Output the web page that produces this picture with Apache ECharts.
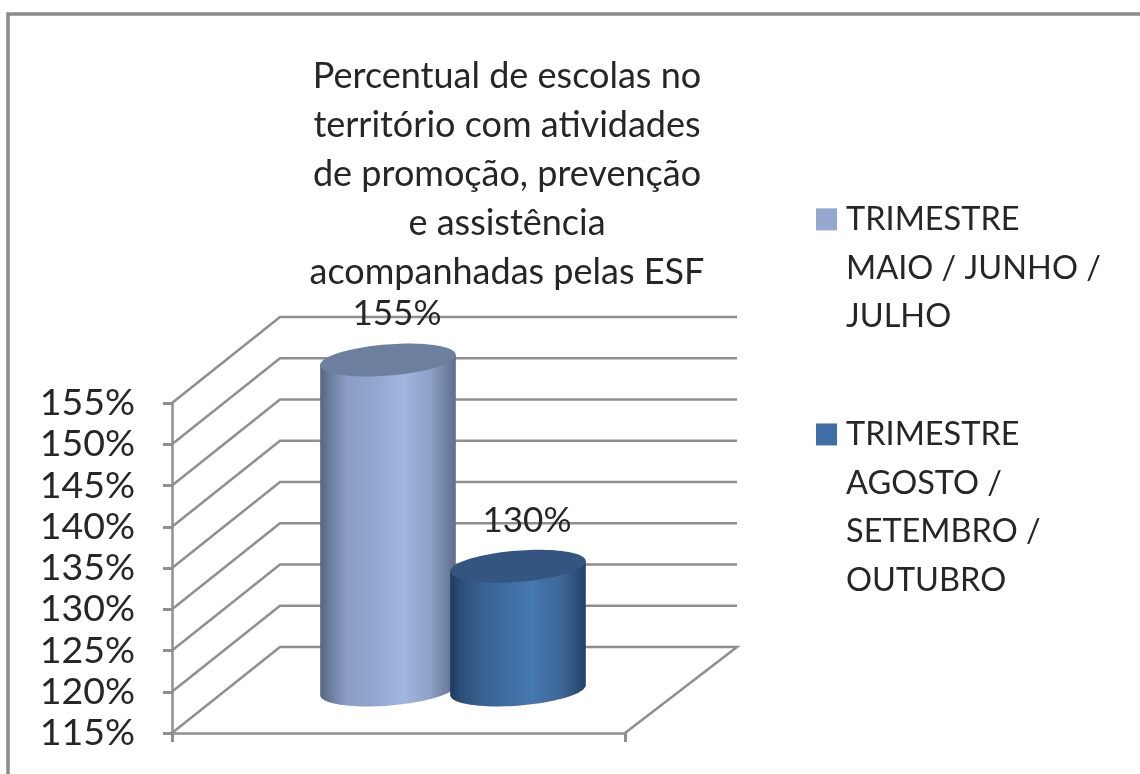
<!DOCTYPE html>
<html>
<head>
<meta charset="utf-8">
<script src="https://cdn.jsdelivr.net/npm/echarts@6/dist/echarts.min.js"></script>
<style>html,body{margin:0;padding:0;background:#fff}#c{width:1140px;height:774px}</style>
</head>
<body>
<div id="c"></div>
<script>
const categories = [''];
const seriesNames = ['TRIMESTRE MAIO / JUNHO / JULHO', 'TRIMESTRE AGOSTO / SETEMBRO / OUTUBRO'];
const seriesLines = [['TRIMESTRE', 'MAIO / JUNHO /', 'JULHO'], ['TRIMESTRE', 'AGOSTO /', 'SETEMBRO /', 'OUTUBRO']];
const seriesValues = [155, 130];
const tickValues = [115, 120, 125, 130, 135, 140, 145, 150, 155];
const titleLines = ['Percentual de escolas no', 'território com atividades', 'de promoção, prevenção', 'e assistência', 'acompanhadas pelas ESF'];

const FONT = 'Lato';
const GREY = '#8f8f8f';
const DEPTH_X = 108, DEPTH_Y = -86;
const swatches = ['#94a8d0', '#3f6ea6'];
const caps = ['#6d7f9e', '#33557f'];
const gradients = [
  [[0,'#56647f'],[0.07,'#6c7c9b'],[0.2,'#8b9dc4'],[0.45,'#94aad2'],[0.62,'#a0b6de'],[0.82,'#8ba0c6'],[1,'#5f6e8a']],
  [[0,'#1f3a5f'],[0.08,'#2c4e7a'],[0.25,'#3a6395'],[0.6,'#4777b0'],[0.82,'#3c6797'],[1,'#23426a']]
];
const centerShift = [-10.5, 119.5];
const A = 68, B = 15.6, TILT = 4.5 * Math.PI / 180;

function ellipsePt(cx, cy, t) {
  return [
    cx + A * Math.cos(t) * Math.cos(TILT) + B * Math.sin(t) * Math.sin(TILT),
    cy - A * Math.cos(t) * Math.sin(TILT) + B * Math.sin(t) * Math.cos(TILT)
  ];
}

function cylinderRenderer(idx) {
  return function (params, api) {
    const top = api.coord([api.value(0), api.value(1)]);
    const base = api.coord([api.value(0), tickValues[0]]);
    const cx = top[0] + centerShift[idx];
    const cyTop = top[1] + DEPTH_Y / 2;
    const cyBase = base[1] + DEPTH_Y / 2;
    const t0 = Math.atan2(B * Math.sin(TILT), A * Math.cos(TILT));
    const body = [];
    for (let i = 0; i <= 48; i++) body.push(ellipsePt(cx, cyBase, t0 + Math.PI * i / 48));
    body.push(ellipsePt(cx, cyTop, t0 + Math.PI));
    body.push(ellipsePt(cx, cyTop, t0));
    const cap = [];
    for (let i = 0; i < 96; i++) cap.push(ellipsePt(cx, cyTop, Math.PI * 2 * i / 96));
    return {
      type: 'group',
      children: [
        { type: 'polygon', shape: { points: body },
          style: { fill: { type: 'linear', x: 0, y: 0, x2: 1, y2: 0, colorStops: gradients[idx].map(s => ({ offset: s[0], color: s[1] })) } } },
        { type: 'polygon', shape: { points: cap }, style: { fill: caps[idx] } },
        { type: 'text', style: { x: cx + 9, y: cyTop - 46, text: api.value(1) + '%', fill: '#262626',
            font: '35px ' + FONT, textAlign: 'center', textVerticalAlign: 'middle' } }
      ]
    };
  };
}

function wallRenderer(params, api) {
  const v = api.value(1);
  const f = api.coord([0, v]);
  const band = api.size([1, 0])[0];
  const x0 = f[0] - band / 2;
  const x1 = f[0] + band / 2;
  const pts = [[x0, f[1]], [x0 + DEPTH_X, f[1] + DEPTH_Y], [x1 + DEPTH_X + 4, f[1] + DEPTH_Y]];
  if (v === tickValues[0]) pts.push([x1, f[1]]);
  return { type: 'polyline', shape: { points: pts }, style: { stroke: GREY, lineWidth: 2.5, fill: null } };
}

const chart = echarts.init(document.getElementById('c'), null, { renderer: 'canvas' });
chart.setOption({
  animation: false,
  backgroundColor: '#fff',
  title: {
    text: titleLines.join('\n'),
    left: 502, top: 47, textAlign: 'center',
    textStyle: { fontFamily: FONT, fontSize: 36, fontWeight: 'normal', color: '#262626', lineHeight: 49 }
  },
  legend: {
    orient: 'vertical', left: 806, top: 190, itemWidth: 0, itemHeight: 0, icon: 'none', itemGap: 69,
    selectedMode: false, data: seriesNames,
    formatter: name => {
      const i = seriesNames.indexOf(name);
      return seriesLines[i].map((l, k) => (k === 0 ? '{s' + i + '|}{p|}{t|' + l + '}' : '{g|}{t|' + l + '}')).join('\n');
    },
    textStyle: {
      fontFamily: FONT, fontSize: 32.5, color: '#262626', lineHeight: 48.7, padding: 0,
      rich: {
        t: { fontFamily: FONT, fontSize: 32.5, color: '#262626', lineHeight: 48.7 },
        g: { width: 30, height: 22 },
        p: { width: 9, height: 22 },
        s0: { width: 21, height: 22, backgroundColor: swatches[0], borderWidth: 0 },
        s1: { width: 21, height: 22, backgroundColor: swatches[1], borderWidth: 0 }
      }
    }
  },
  graphic: [{
    type: 'polyline', silent: true,
    shape: { points: [[8, 774], [8, 14], [1140, 14]] },
    style: { stroke: '#8a8a8a', lineWidth: 3.5, fill: null }
  }],
  grid: { left: 172, top: 403, width: 453, height: 330 },
  xAxis: {
    type: 'category', data: categories,
    axisLine: { lineStyle: { color: GREY, width: 2.5 } },
    axisTick: { show: true, length: 9, lineStyle: { color: GREY, width: 3 } },
    axisLabel: { show: false }, splitLine: { show: false }
  },
  yAxis: {
    type: 'value', min: 115, max: 155, interval: 5,
    axisLine: { show: true, lineStyle: { color: GREY, width: 2.5 } },
    axisTick: { show: true, length: 9, lineStyle: { color: GREY, width: 3 } },
    axisLabel: { formatter: '{value}%', fontFamily: FONT, fontSize: 37.5, color: '#262626', margin: 37 },
    splitLine: { show: false }
  },
  series: [
    { type: 'custom', name: 'grade', silent: true, clip: false, renderItem: wallRenderer,
      encode: { x: 0, y: 1 }, data: tickValues.map(v => [0, v]), z: 1 },
    { type: 'custom', name: seriesNames[0], color: swatches[0], clip: false, renderItem: cylinderRenderer(0),
      encode: { x: 0, y: 1 }, data: [[0, seriesValues[0]]], z: 2 },
    { type: 'custom', name: seriesNames[1], color: swatches[1], clip: false, renderItem: cylinderRenderer(1),
      encode: { x: 0, y: 1 }, data: [[0, seriesValues[1]]], z: 3 }
  ]
});
</script>
</body>
</html>
